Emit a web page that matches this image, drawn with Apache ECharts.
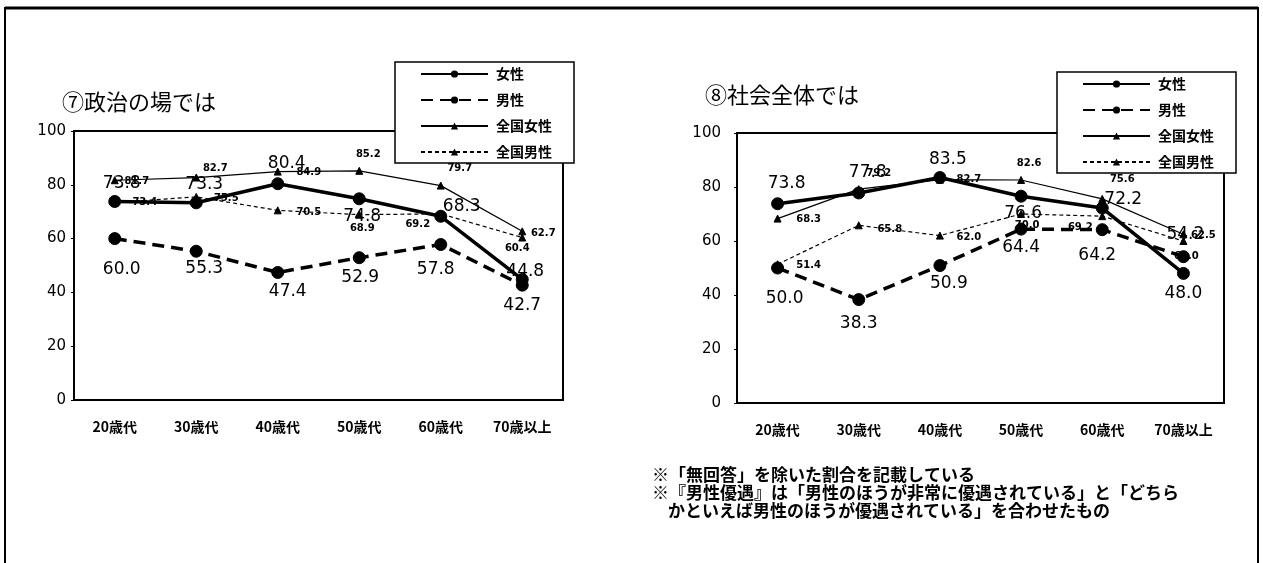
<!DOCTYPE html>
<html><head><meta charset="utf-8">
<script src="https://cdn.jsdelivr.net/npm/echarts@6/dist/echarts.min.js"></script>
<style>html,body{margin:0;padding:0;background:#fff}#c{width:1263px;height:563px}</style>
</head><body><div id="c"></div>
<script>
// ---- data ----
const categories = ['20歳代','30歳代','40歳代','50歳代','60歳代','70歳以上'];
const seriesNames = ['女性','男性','全国女性','全国男性'];
const yMin = 0, yMax = 100, yStep = 20;
// ⑦ 政治の場では
const polFemale    = [73.8, 73.3, 80.4, 74.8, 68.3, 44.8];
const polMale      = [60.0, 55.3, 47.4, 52.9, 57.8, 42.7];
const polNatFemale = [81.7, 82.7, 84.9, 85.2, 79.7, 62.7];
const polNatMale   = [73.4, 75.5, 70.5, 68.9, 69.2, 60.4];
// ⑧ 社会全体では
const socFemale    = [73.8, 77.8, 83.5, 76.6, 72.2, 48.0];
const socMale      = [50.0, 38.3, 50.9, 64.4, 64.2, 54.2];
const socNatFemale = [68.3, 79.2, 82.7, 82.6, 75.6, 62.5];
const socNatMale   = [51.4, 65.8, 62.0, 70.0, 69.2, 60.0];
const titles = ['⑦政治の場では', '⑧社会全体では'];
const notes = [
  '※「無回答」を除いた割合を記載している',
  '※『男性優遇』は「男性のほうが非常に優遇されている」と「どちら',
  'かといえば男性のほうが優遇されている」を合わせたもの'
];

// ---- label placement (style only): offset of label centre from point ----
const offs = {
  polFemale:    [[7,-18],[8,-18],[9,-20],[3,18],[21,-10],[3,-8]],
  polMale:      [[7,31],[8,17],[10,19],[1,20],[-5,25],[0,20]],
  polNatFemale: [[22,1],[19,-9],[31,1],[9,-16],[19,-17],[21,2]],
  polNatMale:   [[30,0],[30,2],[31,2],[3,14],[-23,11],[-5,11]],
  socFemale:    [[9,-20],[9,-20],[8,-18],[2,17],[21,-8],[0,20]],
  socMale:      [[7,31],[0,24],[9,18],[0,18],[-5,26],[2,-22]],
  socNatFemale: [[31,1],[20,-16],[29,0],[8,-17],[20,-19],[20,1]],
  socNatMale:   [[31,1],[31,4],[29,2],[6,11],[-22,11],[3,15]]
};

const styles = {
  '女性':    {symbol:'circle', symbolSize:12, lineStyle:{width:3.5, type:'solid'}, big:true},
  '男性':    {symbol:'circle', symbolSize:12, lineStyle:{width:3.5, type:[12,7]}, big:true},
  '全国女性': {symbol:'triangle', symbolSize:7, lineStyle:{width:1.2, type:'solid'}, big:false},
  '全国男性': {symbol:'triangle', symbolSize:7, lineStyle:{width:1.2, type:[4,3]}, big:false}
};

function mk(name, values, gi, offsets) {
  const st = styles[name];
  return {
    name, type:'line', xAxisIndex:gi, yAxisIndex:gi,
    symbol:st.symbol, symbolSize:st.symbolSize,
    lineStyle:Object.assign({color:'#000'}, st.lineStyle),
    itemStyle:{color:'#000', borderColor:'#000'},
    emphasis:{disabled:true},
    z: st.big ? 3 : 2,
    label:{
      show:true, position:'inside', color:'#000',
      fontFamily:'DejaVu Sans',
      fontSize: st.big ? 17 : 10,
      fontWeight: st.big ? 'normal' : 'bold',
      formatter: p => Number(p.value).toFixed(1)
    },
    data: values.map((v,i) => ({value:v, label:{offset:offsets[i]}}))
  };
}

const grids = [
  {left:74, top:131, width:489, height:269},
  {left:737, top:133, width:487, height:270}
];

function xAx(gi){
  return {
    type:'category', gridIndex:gi, data:categories, boundaryGap:true,
    axisLine:{lineStyle:{color:'#000', width:2}},
    axisTick:{inside:true, length:4, lineStyle:{color:'#000'}},
    axisLabel:{color:'#000', fontFamily:'Noto Sans CJK JP', fontWeight:'bold', fontSize:14, margin:20},
    splitLine:{show:false}
  };
}
function yAx(gi, margin){
  return {
    type:'value', gridIndex:gi, min:yMin, max:yMax, interval:yStep,
    axisLine:{show:true, lineStyle:{color:'#000', width:2}},
    axisTick:{show:true, length:3, lineStyle:{color:'#000'}},
    axisLabel:{color:'#000', fontFamily:'DejaVu Sans', fontSize:15, margin:margin},
    splitLine:{show:false}
  };
}
function legend(left, top){
  return {
    left, top, orient:'vertical', data:seriesNames,
    itemWidth:67, itemHeight:9, itemGap:12,
    padding:[5,22,4,25], z:10,
    backgroundColor:'#fff', borderColor:'#000', borderWidth:1.5,
    selectedMode:false,
    textStyle:{color:'#000', fontFamily:'Noto Sans CJK JP', fontWeight:'bold', fontSize:14, padding:[0,0,0,3]}
  };
}

const chart = echarts.init(document.getElementById('c'), null, {renderer:'canvas'});
chart.setOption({
  animation:false,
  backgroundColor:'#fff',
  title:[
    {text:titles[0], left:62, top:91, padding:0, textStyle:{fontFamily:'Noto Sans CJK JP', fontWeight:'normal', fontSize:22, color:'#000'}},
    {text:titles[1], left:705, top:84, padding:0, textStyle:{fontFamily:'Noto Sans CJK JP', fontWeight:'normal', fontSize:22, color:'#000'}}
  ],
  legend:[legend(395,62), legend(1057,72)],
  grid: grids.map(g => Object.assign({show:true, borderColor:'#000', borderWidth:2, backgroundColor:'transparent'}, g)),
  xAxis:[xAx(0), xAx(1)],
  yAxis:[yAx(0,8), yAx(1,16)],
  series:[
    mk('全国女性', polNatFemale, 0, offs.polNatFemale),
    mk('全国男性', polNatMale, 0, offs.polNatMale),
    mk('女性', polFemale, 0, offs.polFemale),
    mk('男性', polMale, 0, offs.polMale),
    mk('全国女性', socNatFemale, 1, offs.socNatFemale),
    mk('全国男性', socNatMale, 1, offs.socNatMale),
    mk('女性', socFemale, 1, offs.socFemale),
    mk('男性', socMale, 1, offs.socMale)
  ],
  graphic:[
    {type:'rect', shape:{x:5, y:8, width:1253, height:600}, style:{fill:null, stroke:'#000', lineWidth:2}, silent:true},
    {type:'line', shape:{x1:5, y1:8, x2:1258, y2:8}, style:{stroke:'#000', lineWidth:3}, silent:true},
    {type:'text', left:652, top:466, style:{text:notes[0], font:'bold 17px "Noto Sans CJK JP"', fill:'#000'}},
    {type:'text', left:652, top:484, style:{text:notes[1], font:'bold 17px "Noto Sans CJK JP"', fill:'#000'}},
    {type:'text', left:668, top:502, style:{text:notes[2], font:'bold 17px "Noto Sans CJK JP"', fill:'#000'}}
  ]
});
</script></body></html>
